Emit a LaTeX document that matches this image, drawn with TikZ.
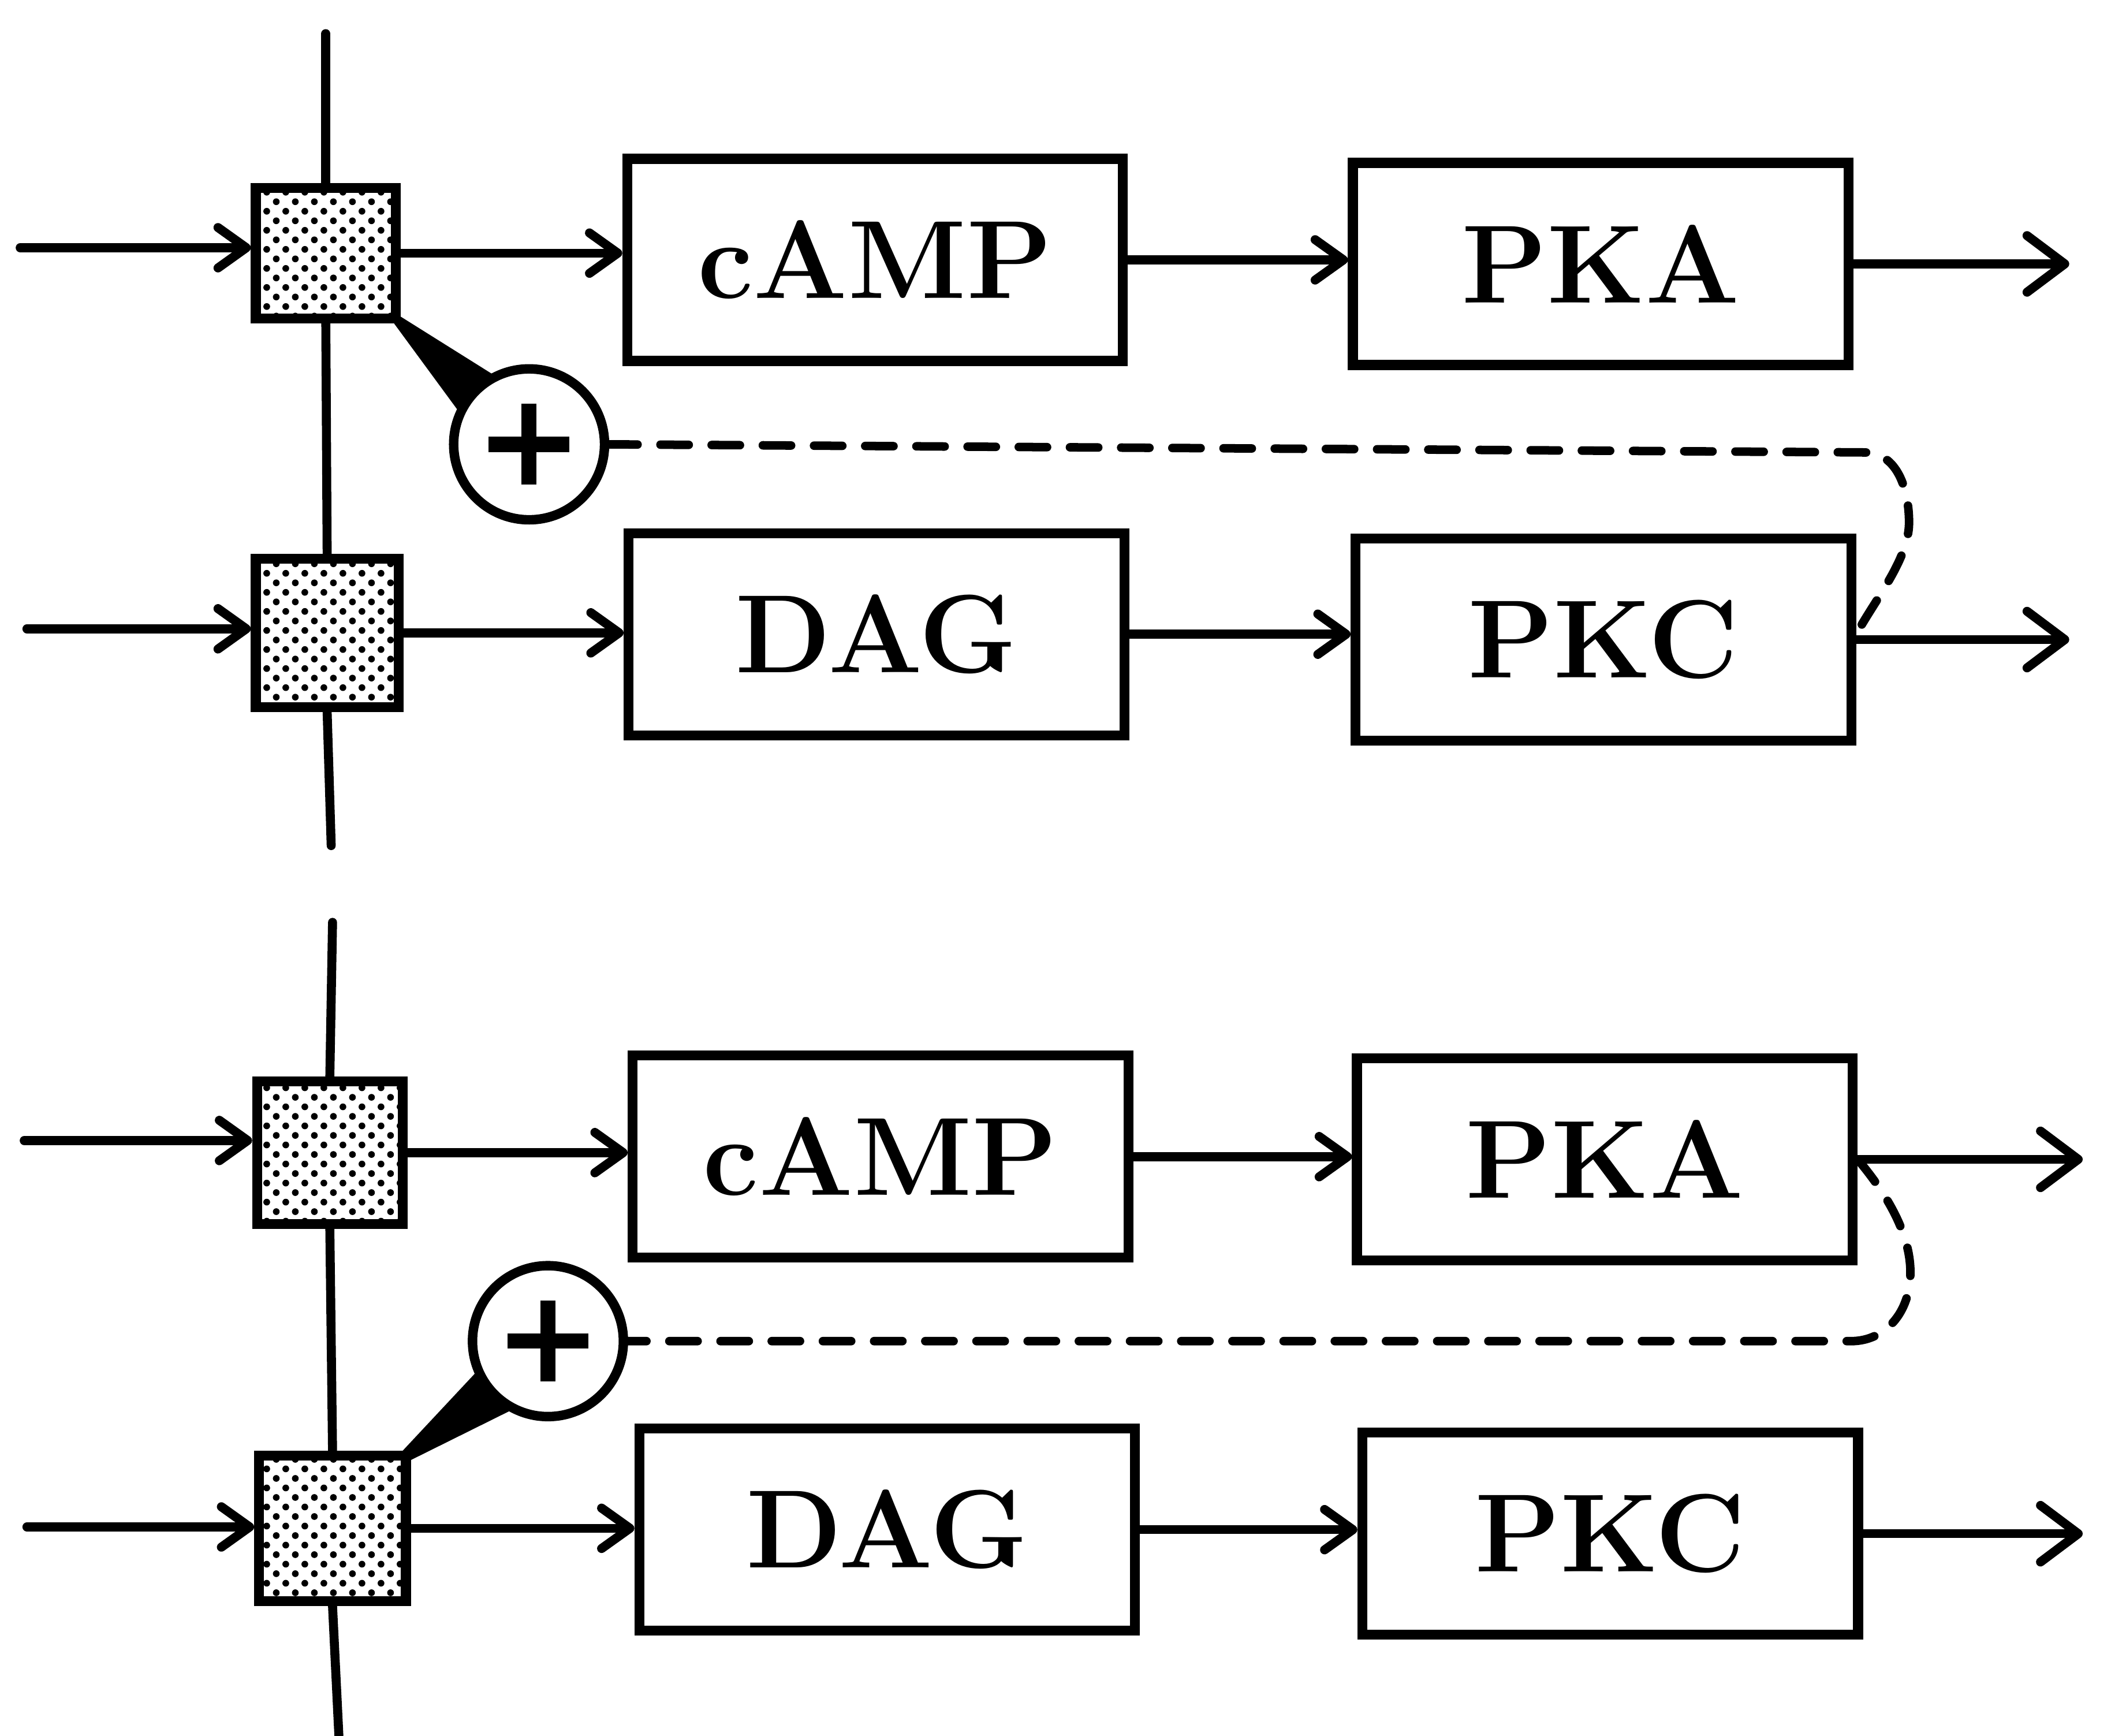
\documentclass[tikz,border=0pt]{standalone}
\usepackage{fontspec}
\usetikzlibrary{arrows.meta,patterns.meta,backgrounds}

\tikzset{
  wire/.style={line width=1.9pt, line cap=round},
  feed/.style={wire, -{Straight Barb[length=0.21cm,width=0.30cm,round]}},
  outflow/.style={wire, -{Straight Barb[length=0.28cm,width=0.42cm,round]}},
  procbox/.style={draw, line width=2.1pt, minimum width=3.68cm, minimum height=1.50cm,
    inner sep=0pt, font=\fontsize{23.5}{28}\selectfont\bfseries},
  receptor/.style={draw, line width=2.1pt, inner sep=0pt,
    pattern={Dots[distance=0.1cm,radius=0.025cm,angle=45]}},
  gate/.style={circle, draw, fill=white, line width=2pt, minimum size=1.12cm, inner sep=0pt,
    path picture={
      \draw[line width=3.2pt]
        ([xshift=-0.30cm]path picture bounding box.center) -- ([xshift=0.30cm]path picture bounding box.center)
        ([yshift=-0.30cm]path picture bounding box.center) -- ([yshift=0.30cm]path picture bounding box.center);
    }},
  crosstalk/.style={line width=1.8pt, line cap=round, dash pattern=on 0.21cm off 0.17cm},
}

\begin{document}
\begin{tikzpicture}[x=0.01cm, y=-0.01cm]
\useasboundingbox (0,0) rectangle (1568,1289);

% ---------- upper scheme ----------
\node[receptor, minimum width=1.04cm, minimum height=0.97cm] (sqA) at (242,188) {};
\node[receptor, minimum width=1.06cm, minimum height=1.10cm] (sqB) at (243,470) {};
\node[procbox] (campA) at (650,193) {cAMP};
\node[procbox] (pkaA)  at (1189,196) {PKA};
\node[procbox] (dagA)  at (651,471) {DAG};
\node[procbox] (pkcA)  at (1191,475) {PKC};
\node[gate] (gA) at (393,330) {};

\coordinate (topA) at (242,25);
\coordinate (botA) at (246,628);
\coordinate (inA1) at (15,184);
\coordinate (inA2) at (20,467);
\coordinate (endA) at (1537,0);

\draw[wire] (topA) -- (sqA.north);
\draw[wire] (sqA.south) -- (sqB.north);
\draw[wire] (sqB.south) -- (botA);

\draw[feed] (inA1) -- (inA1 -| sqA.west);
\draw[feed] (inA2) -- (inA2 -| sqB.west);
\draw[feed] (sqA.east) -- (sqA.east -| campA.west);
\draw[feed] (sqB.east) -- (sqB.east -| dagA.west);
\draw[feed] (campA.east) -- (campA.east -| pkaA.west);
\draw[feed] (dagA.east) -- (dagA.east -| pkcA.west);
\draw[outflow] (pkaA.east) -- (pkaA.east -| endA);
\draw[outflow] (pkcA.east) -- (pkcA.east -| endA);

\begin{scope}[on background layer]
  \fill ([yshift=0.05cm]sqA.south east) -- (gA.118) -- (gA.center) -- (gA.154)
        -- ([xshift=-0.05cm]sqA.south east) -- (sqA.south east) -- cycle;
\end{scope}

\draw[crosstalk] (gA.east) -- (1385,336)
  .. controls (1410,336) and (1418,365) .. (1418,388)
  .. controls (1418,415) and (1393,445) .. ([yshift=0.04cm]pkcA.east);

% ---------- lower scheme ----------
\node[receptor, minimum width=1.08cm, minimum height=1.06cm] (sqC) at (245,856) {};
\node[receptor, minimum width=1.09cm, minimum height=1.08cm] (sqD) at (247,1135) {};
\node[procbox] (campB) at (654,859) {cAMP};
\node[procbox] (pkaB)  at (1192,861) {PKA};
\node[procbox] (dagB)  at (659,1136) {DAG};
\node[procbox] (pkcB)  at (1196,1139) {PKC};
\node[gate] (gB) at (407,996) {};

\coordinate (topB) at (247,685);
\coordinate (botB) at (252,1295);
\coordinate (inB1) at (18,847);
\coordinate (inB2) at (20,1134);
\coordinate (endB) at (1547,0);

\draw[wire] (topB) -- (sqC.north);
\draw[wire] (sqC.south) -- (sqD.north);
\draw[wire] (sqD.south) -- (botB);

\draw[feed] (inB1) -- (inB1 -| sqC.west);
\draw[feed] (inB2) -- (inB2 -| sqD.west);
\draw[feed] (sqC.east) -- (sqC.east -| campB.west);
\draw[feed] (sqD.east) -- (sqD.east -| dagB.west);
\draw[feed] (campB.east) -- (campB.east -| pkaB.west);
\draw[feed] (dagB.east) -- (dagB.east -| pkcB.west);
\draw[outflow] (pkaB.east) -- (pkaB.east -| endB);
\draw[outflow] (pkcB.east) -- (pkcB.east -| endB);

\begin{scope}[on background layer]
  \fill ([xshift=-0.06cm]sqD.north east) -- (gB.204) -- (gB.center) -- (gB.241)
        -- ([yshift=-0.07cm]sqD.north east) -- (sqD.north east) -- cycle;
\end{scope}

\draw[crosstalk] (pkaB.east)
  .. controls (1400,885) and (1419,915) .. (1419,945)
  .. controls (1419,975) and (1400,996) .. (1375,996)
  -- (gB.east);
\end{tikzpicture}
\end{document}
